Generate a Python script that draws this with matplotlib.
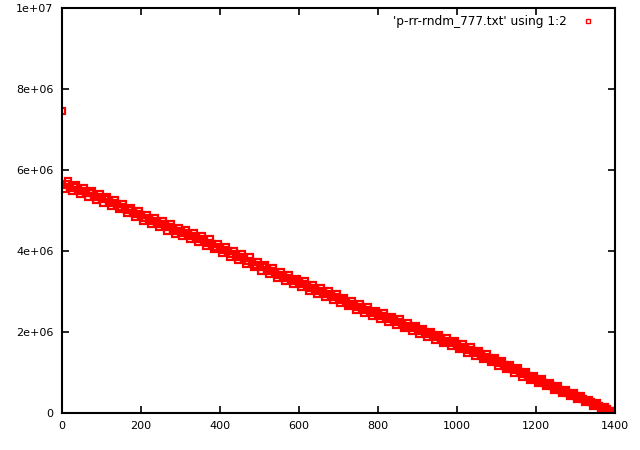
import numpy as np
import matplotlib.pyplot as plt

# values in units of 1e6
x_a = list(range(0, 1401, 10))
y_a = [
    5.63, 5.66, 5.55, 5.57, 5.50, 5.47, 5.44, 5.42, 5.36, 5.34,
    5.30, 5.28, 5.20, 5.18, 5.15, 5.09, 5.03, 5.01, 4.93, 4.92,
    4.88, 4.81, 4.80, 4.73, 4.70, 4.67, 4.61, 4.59, 4.55, 4.50,
    4.49, 4.45, 4.42, 4.36, 4.33, 4.30, 4.24, 4.20, 4.18, 4.11,
    4.07, 4.03, 3.99, 3.93, 3.90, 3.84, 3.82, 3.76, 3.72, 3.66,
    3.62, 3.60, 3.53, 3.50, 3.46, 3.41, 3.38, 3.34, 3.29, 3.25,
    3.21, 3.18, 3.14, 3.09, 3.06, 3.02, 2.98, 2.93, 2.90, 2.86,
    2.82, 2.78, 2.74, 2.70, 2.66, 2.62, 2.58, 2.54, 2.50, 2.46,
    2.42, 2.39, 2.35, 2.31, 2.28, 2.24, 2.20, 2.16, 2.12, 2.09,
    2.05, 2.02, 1.98, 1.94, 1.90, 1.87, 1.83, 1.79, 1.75, 1.72,
    1.68, 1.64, 1.60, 1.56, 1.52, 1.47, 1.44, 1.39, 1.35, 1.31,
    1.27, 1.23, 1.18, 1.14, 1.09, 1.05, 1.01, 0.96, 0.92, 0.87,
    0.83, 0.79, 0.75, 0.71, 0.66, 0.62, 0.58, 0.54, 0.50, 0.46,
    0.42, 0.38, 0.34, 0.30, 0.26, 0.22, 0.18, 0.13, 0.09, 0.05,
    0.01,
]
x_b = list(range(5, 1400, 10))
y_b = [
    5.52, 5.72, 5.47, 5.62, 5.40, 5.55, 5.34, 5.48, 5.26, 5.41,
    5.19, 5.33, 5.10, 5.26, 5.03, 5.15, 4.93, 5.07, 4.83, 4.99,
    4.75, 4.90, 4.66, 4.81, 4.59, 4.73, 4.50, 4.66, 4.43, 4.58,
    4.37, 4.52, 4.29, 4.44, 4.21, 4.37, 4.12, 4.29, 4.05, 4.18,
    3.96, 4.10, 3.86, 4.01, 3.78, 3.92, 3.69, 3.84, 3.60, 3.73,
    3.51, 3.66, 3.42, 3.57, 3.34, 3.49, 3.26, 3.41, 3.18, 3.32,
    3.10, 3.25, 3.02, 3.17, 2.95, 3.09, 2.86, 3.01, 2.79, 2.93,
    2.71, 2.85, 2.63, 2.77, 2.55, 2.69, 2.47, 2.61, 2.39, 2.53,
    2.31, 2.46, 2.24, 2.38, 2.17, 2.31, 2.09, 2.23, 2.02, 2.15,
    1.95, 2.08, 1.87, 2.00, 1.80, 1.93, 1.72, 1.85, 1.65, 1.78,
    1.57, 1.70, 1.49, 1.62, 1.41, 1.53, 1.33, 1.45, 1.25, 1.37,
    1.17, 1.28, 1.08, 1.19, 0.99, 1.10, 0.90, 1.01, 0.82, 0.92,
    0.74, 0.84, 0.66, 0.75, 0.57, 0.67, 0.49, 0.58, 0.41, 0.50,
    0.34, 0.42, 0.26, 0.33, 0.18, 0.25, 0.10, 0.16, 0.03, 0.06,
]
outlier_x = [0]
outlier_y = [7.45]

xticks = [0, 200, 400, 600, 800, 1000, 1200, 1400]
yticks = [0, 2e6, 4e6, 6e6, 8e6, 1e7]
ytick_labels = ["0", "2e+06", "4e+06", "6e+06", "8e+06", "1e+07"]

plt.rcParams['font.family'] = ['DejaVu Sans']
fig = plt.figure(figsize=(6.4, 4.5), dpi=100)
ax = fig.add_axes([62/640, 37/450, 553/640, 405/450])

xs = x_a + x_b + outlier_x
ys = [v * 1e6 for v in y_a + y_b + outlier_y]
ax.plot(xs, ys, linestyle="none", marker="s", markersize=4.2,
        markerfacecolor="none", markeredgecolor="red", markeredgewidth=1.6,
        label="'p-rr-rndm_777.txt' using 1:2")

ax.set_xlim(0, 1400)
ax.set_ylim(0, 1e7)
ax.set_xticks(xticks)
ax.set_yticks(yticks)
ax.set_yticklabels(ytick_labels)
ax.tick_params(direction="in", length=5, width=1.2, top=True, right=True,
               labelsize=8, pad=6)
for s in ax.spines.values():
    s.set_linewidth(1.5)

leg = ax.legend(loc="upper right", bbox_to_anchor=(1.0, 1.0 + 11/405),
                frameon=False, markerfirst=False,
                fontsize=8.7, handlelength=1.5, handletextpad=1.0,
                borderaxespad=1.1, markerscale=0.75)
leg.legend_handles[0].set_markeredgewidth(1.0)

fig.savefig("out.png", dpi=100)
